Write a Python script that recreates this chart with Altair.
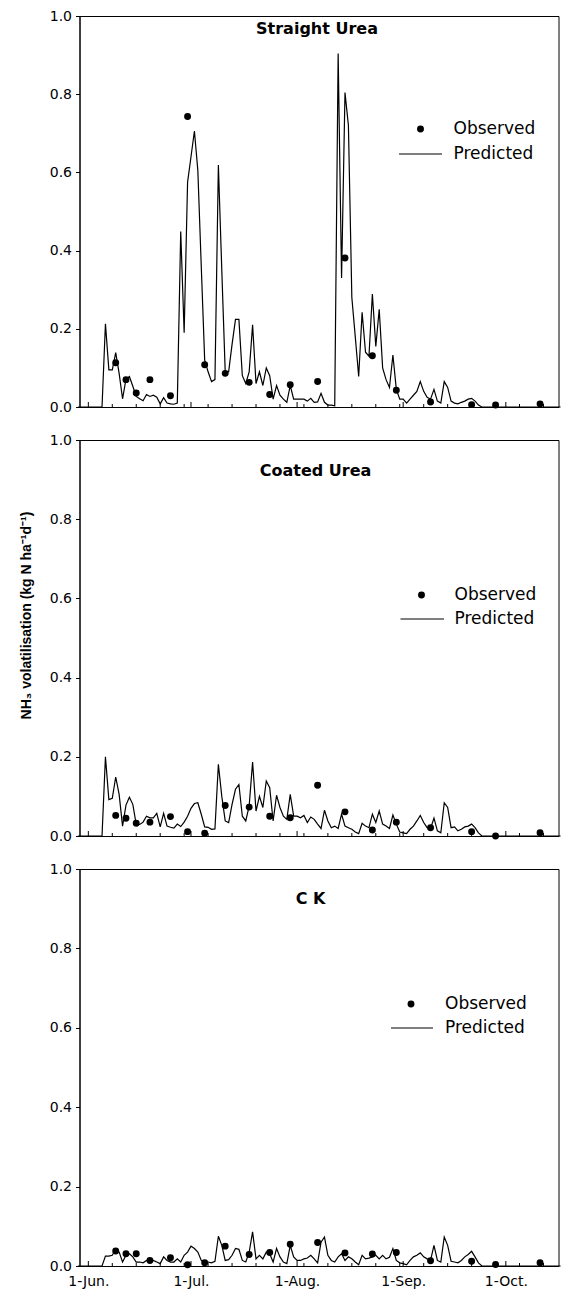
import altair as alt
import pandas as pd

# ---------------- data ----------------
START = pd.Timestamp("2004-06-01")
pred_dates = [(START + pd.Timedelta(days=d)).strftime("%Y-%m-%d") for d in range(-3, 139)]

obs_dates = ["2004-06-09", "2004-06-12", "2004-06-15", "2004-06-19", "2004-06-25",
             "2004-06-30", "2004-07-05", "2004-07-11", "2004-07-18", "2004-07-24",
             "2004-07-30", "2004-08-07", "2004-08-15", "2004-08-23", "2004-08-30",
             "2004-09-09", "2004-09-21", "2004-09-28", "2004-10-11"]

obs_straight = [0.113, 0.070, 0.036, 0.070, 0.029, 0.743, 0.108, 0.086, 0.063, 0.032,
                0.057, 0.065, 0.381, 0.131, 0.043, 0.013, 0.006, 0.005, 0.008]
obs_coated = [0.052, 0.045, 0.032, 0.035, 0.049, 0.011, 0.007, 0.077, 0.073, 0.050,
              0.046, 0.128, 0.061, 0.015, 0.035, 0.021, 0.011, 0.000, 0.008]
obs_ck = [0.038, 0.031, 0.031, 0.014, 0.021, 0.003, 0.008, 0.050, 0.029, 0.034,
          0.055, 0.059, 0.033, 0.030, 0.034, 0.013, 0.012, 0.004, 0.008]

pred_straight = [
    0, 0, 0, 0, 0, 0, 0, 0,
    .213, .095, .095, .139, .086, .021, .071, .078, .053, .027,
    .021, .016, .032, .027, .030, .025, .008, .024, .010, .008,
    .007, .010, .449, .190, .575, .640, .706, .605, .360, .120,
    .090, .065, .070, .619, .350, .090, .090, .160, .224, .224,
    .080, .060, .090, .210, .060, .090, .055, .100, .080, .020,
    .055, .030, .020, .012, .055, .020, .020, .020, .020, .015,
    .022, .012, .013, .035, .012, .005, .005, .003, .904, .330,
    .804, .720, .280, .180, .078, .242, .140, .130, .289, .155,
    .250, .100, .070, .050, .133, .045, .020, .020, .010, .020,
    .030, .040, .065, .040, .025, .020, .045, .015, .010, .065,
    .050, .015, .010, .008, .012, .015, .020, .022, .015, .005,
    0, 0, 0, 0, 0, 0, 0, 0, 0, 0, 0, 0, 0, 0, 0, 0, 0, 0, 0, 0, 0, 0, 0, 0]

pred_coated = [
    0, 0, 0, 0, 0, 0, 0, 0,
    .200, .092, .095, .149, .105, .025, .078, .098, .080, .029,
    .029, .035, .050, .046, .046, .057, .023, .057, .025, .022,
    .020, .030, .024, .035, .050, .070, .082, .084, .055, .023,
    .022, .017, .018, .181, .100, .038, .034, .080, .118, .130,
    .050, .038, .076, .187, .063, .100, .072, .139, .122, .038,
    .103, .072, .050, .042, .105, .050, .050, .046, .052, .034,
    .048, .042, .030, .019, .065, .038, .021, .025, .019, .055,
    .025, .021, .017, .010, .006, .032, .025, .021, .055, .034,
    .063, .030, .025, .019, .053, .030, .010, .008, .006, .017,
    .025, .038, .052, .034, .021, .019, .045, .013, .008, .084,
    .072, .021, .023, .013, .017, .023, .025, .030, .021, .008,
    0, 0, 0, 0, 0, 0, 0, 0, 0, 0, 0, 0, 0, 0, 0, 0, 0, 0, 0, 0, 0, 0, 0, 0]

pred_ck = [
    0, 0, 0, 0, 0, 0, 0, 0,
    .025, .025, .027, .042, .035, .010, .027, .031, .023, .010,
    .010, .008, .014, .010, .014, .010, .006, .023, .014, .010,
    .010, .018, .010, .027, .035, .050, .044, .035, .014, .008,
    .010, .008, .012, .075, .052, .014, .016, .027, .044, .042,
    .014, .010, .035, .086, .018, .027, .018, .035, .031, .010,
    .044, .023, .010, .006, .052, .023, .014, .014, .018, .020,
    .027, .018, .008, .060, .073, .027, .014, .010, .023, .031,
    .014, .023, .018, .010, .003, .027, .018, .020, .023, .027,
    .018, .027, .018, .022, .044, .014, .008, .006, .003, .014,
    .023, .027, .033, .023, .018, .014, .052, .014, .010, .073,
    .052, .012, .010, .008, .014, .023, .029, .037, .023, .008,
    0, 0, 0, 0, 0, 0, 0, 0, 0, 0, 0, 0, 0, 0, 0, 0, 0, 0, 0, 0, 0, 0, 0, 0]

month_ticks = ["2004-06-01", "2004-07-01", "2004-08-01", "2004-09-01", "2004-10-01"]
minor_ticks = ["2004-06-08", "2004-06-15", "2004-06-22", "2004-06-29", "2004-07-06",
               "2004-07-13", "2004-07-20", "2004-07-27", "2004-08-03", "2004-08-10",
               "2004-08-17", "2004-08-24", "2004-08-31", "2004-09-07", "2004-09-14",
               "2004-09-21", "2004-09-28", "2004-10-05", "2004-10-12"]
y_ticks = [0.0, 0.2, 0.4, 0.6, 0.8, 1.0]

Y_TITLE = "NH\u2083 volatilisation (kg N ha\u207b\u00b9d\u207b\u00b9)"

# ---------------- layout ----------------
W = 479
FONT = "DejaVu Sans"

xscale = alt.Scale(type="utc",
                   domain=[alt.DateTime(year=2004, month=5, date=29, hours=10, minutes=5, utc=True),
                           alt.DateTime(year=2004, month=10, date=16, hours=9, minutes=20, utc=True)])
yscale = alt.Scale(domain=[0, 1], nice=False)

month_vals = [alt.DateTime(year=2004, month=m, date=1, utc=True) for m in [6, 7, 8, 9, 10]]


def x_axis(labels):
    return alt.Axis(values=month_vals, labels=labels, ticks=False, tickSize=0,
                    domain=False, grid=False, title=None, labelPadding=8,
                    labelExpr="utcFormat(datum.value, '%-d-%b.')",
                    labelFont=FONT, labelFontSize=14, labelColor="black")


def y_axis(title):
    if title:
        return alt.Axis(values=y_ticks, format=".1f", grid=False, tickSize=4,
                        labelPadding=4, labelFont=FONT, labelFontSize=14,
                        labelColor="black", tickColor="black", domainColor="black",
                        title=title, titleFont="Liberation Sans", titleFontSize=14,
                        titleFontWeight="bold", titleColor="black", titleAngle=270,
                        titleAlign="center", titleBaseline="middle",
                        titleX=-53.5, titleY=175)
    return alt.Axis(values=y_ticks, format=".1f", grid=False, tickSize=4,
                    labelPadding=4, labelFont=FONT, labelFontSize=14,
                    labelColor="black", tickColor="black", domainColor="black",
                    title=None)


def text_layer(txt, x, y, size, bold=False, align="left"):
    return alt.Chart(pd.DataFrame({"t": [txt]})).mark_text(
        font=FONT, fontSize=size, fontWeight="bold" if bold else "normal",
        align=align, baseline="middle", color="black"
    ).encode(text="t:N", x=alt.value(x), y=alt.value(y))


def panel(name, pred, obs, H, title_xy, leg, show_labels, y_title):
    pred_df = pd.DataFrame({"date": pred_dates, "v": pred})
    obs_df = pd.DataFrame({"date": obs_dates, "v": obs})
    x = alt.X("date:T", scale=xscale, axis=x_axis(show_labels))
    y = alt.Y("v:Q", scale=yscale, axis=y_axis(y_title))

    line = alt.Chart(pred_df).mark_line(color="black", strokeWidth=1.2).encode(x=x, y=y)
    pts = alt.Chart(obs_df).mark_circle(color="black", size=48, opacity=1).encode(x=x, y=y)

    major = alt.Chart(pd.DataFrame({"date": month_ticks})).mark_rule(
        color="black", strokeWidth=1).encode(x=x, y=alt.value(H), y2=alt.value(H - 5))
    minor = alt.Chart(pd.DataFrame({"date": minor_ticks})).mark_rule(
        color="black", strokeWidth=1).encode(x=x, y=alt.value(H), y2=alt.value(H - 3))

    ttl = text_layer(name, title_xy[0], title_xy[1], 16, bold=True, align="center")

    dx, dy, tx, lx1, lx2, ly = leg
    leg_pt = alt.Chart(pd.DataFrame({"t": ["Observed"]})).mark_circle(
        color="black", size=48, opacity=1).encode(x=alt.value(dx), y=alt.value(dy))
    leg_obs = text_layer("Observed", tx, dy, 17)
    leg_line = alt.Chart(pd.DataFrame({"t": ["Predicted"]})).mark_rule(
        color="black", strokeWidth=1.2).encode(x=alt.value(lx1), x2=alt.value(lx2), y=alt.value(ly))
    leg_pred = text_layer("Predicted", tx, ly, 17)

    return alt.layer(major, minor, line, pts, ttl, leg_pt, leg_obs, leg_line, leg_pred).properties(
        width=W, height=H)


p1 = panel("Straight Urea", pred_straight, obs_straight, 391, (237.5, 13),
           (341, 113, 374, 319.5, 362.5, 138), False, None)
p2 = panel("Coated Urea", pred_coated, obs_coated, 396, (236, 31),
           (342, 155, 375, 321, 364.5, 179), False, Y_TITLE)
p3 = panel("C K", pred_ck, obs_ck, 397, (231, 30),
           (331.5, 135, 365.5, 311.5, 353.5, 159), True, None)

chart = alt.vconcat(p1, p2, p3, spacing=33, bounds="flush").configure_view(
    stroke="black", strokeWidth=1
).properties(padding={"left": 10.5, "top": 0, "right": 0, "bottom": 0})

chart.save("out.html", embed_options={"renderer": "svg", "actions": False})
